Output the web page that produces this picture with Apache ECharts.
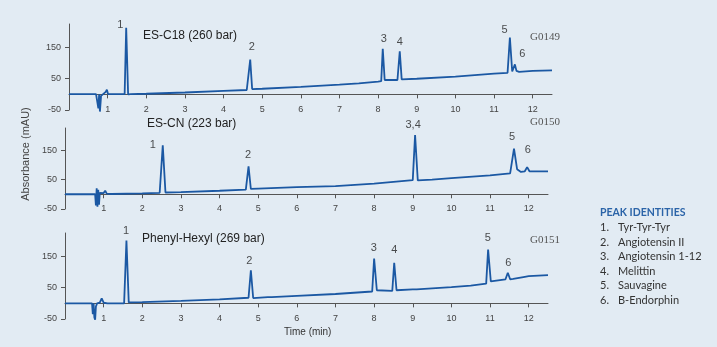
<!DOCTYPE html>
<html>
<head>
<meta charset="utf-8">
<script src="https://cdn.jsdelivr.net/npm/echarts@6/dist/echarts.min.js"></script>
<style>
html,body{margin:0;padding:0;background:#e2ebf3;}
#c{width:717px;height:347px;}
</style>
</head>
<body>
<div id="c"></div>
<script>
// ---- Data (time in min, absorbance in mAU) ----
const xTicks = [1,2,3,4,5,6,7,8,9,10,11,12];
const yTicks = [-50, 50, 150];

const panelTitles = ['ES-C18 (260 bar)', 'ES-CN (223 bar)', 'Phenyl-Hexyl (269 bar)'];
const panelCodes = ['G0149', 'G0150', 'G0151'];

// Panel 1: ES-C18
const time1 = [0,0.70,0.74,0.76,0.78,0.80,0.83,0.88,0.95,0.98,1.01,1.1,1.44,1.48,1.53,1.6,2,3,4,4.6,4.65,4.69,4.74,5,6,7,7.5,8.0,8.08,8.12,8.17,8.5,8.52,8.56,8.61,9,10,11,11.35,11.41,11.47,11.5,11.54,11.58,11.65,12,12.5];
const abs1  = [1,1,1,-45,0,-55,-5,1,8,15,1,1,1,213,0,1,2,6,11,14,15,111,17,18,24,31,35,41,42,146,46,46,47,138,48,50,57,66,69,182,73,77,96,75,72,75,77];

// Panel 2: ES-CN
const time2 = [0,0.78,0.80,0.82,0.84,0.86,0.88,0.90,0.94,1.0,1.04,1.08,1.2,2.0,2.45,2.53,2.6,3,4,4.68,4.75,4.81,5,6,7,8,9.0,9.06,9.13,9.5,10,11,11.52,11.62,11.7,11.8,11.9,11.96,12.02,12.5];
const abs2  = [0,0,-38,20,-42,15,-35,5,0,4,12,2,1,3,5,166,6,7,12,16,95,18,19,24,28,36,48,201,47,50,55,64,71,155,85,76,78,92,78,78];

// Panel 3: Phenyl-Hexyl
const time3 = [0,0.70,0.72,0.74,0.76,0.78,0.80,0.83,0.9,0.95,1.0,1.1,1.53,1.59,1.65,2,3,4,4.75,4.81,4.87,5.25,5.3,5.35,6,7,7.95,8.0,8.07,8.47,8.52,8.58,9.0,9.05,9.1,10,10.5,10.9,10.95,11.02,11.4,11.46,11.52,11.6,11.9,12.0,12.5];
const abs3  = [0,0,-35,0,-45,-52,-10,0,2,16,2,0,0,201,3,4,8,13,18,106,17,20,22,20,24,30,38,143,42,40,130,42,45,47,45,52,57,63,172,70,77,98,77,78,85,87,90];

// Peak labels (text, time, absorbance where the label sits)
const peakNames1 = ['1','2','3','4','5','6'];
const peakT1 = [1.33, 4.73, 8.15, 8.56, 11.27, 11.73];
const peakV1 = [222, 152, 176, 166, 205, 128];
const peakNames2 = ['1','2','3,4','5','6'];
const peakT2 = [2.27, 4.74, 9.01, 11.57, 11.98];
const peakV2 = [166, 132, 234, 196, 150];
const peakNames3 = ['1','2','3','4','5','6'];
const peakT3 = [1.58, 4.77, 7.99, 8.52, 10.94, 11.47];
const peakV3 = [233, 137, 178, 171, 210, 129];

const legendTitle = 'PEAK IDENTITIES';
const peakIdentities = ['Tyr-Tyr-Tyr','Angiotensin II','Angiotensin 1-12','Melittin','Sauvagine','B-Endorphin'];

// ---- Build chart ----
const zip = (a, b) => a.map((v, i) => [v, b[i]]);
const lineColor = '#1b58a3';
const axisColor = '#555';

const grids = [
  {left: 69, right: 165, top: 24, height: 86},
  {left: 65, right: 169, top: 128, height: 81},
  {left: 65, right: 169, top: 233, height: 86}
];

function xAx(i) {
  return {
    type: 'value', gridIndex: i, min: 0, max: 12.5,
    axisLine: {onZero: true, lineStyle: {color: axisColor, width: 1}},
    axisTick: {show: true, customValues: xTicks, length: 4, lineStyle: {color: axisColor}},
    axisLabel: {customValues: xTicks, fontSize: 9, color: '#444', margin: -5, fontFamily: 'Liberation Sans, Arial'},
    splitLine: {show: false}
  };
}
function yAx(i) {
  return {
    type: 'value', gridIndex: i, min: -50, max: 225,
    axisLine: {show: true, onZero: false, lineStyle: {color: axisColor, width: 1}},
    axisTick: {show: true, customValues: yTicks, length: 4, lineStyle: {color: axisColor}},
    axisLabel: {customValues: yTicks, fontSize: 9, color: '#444', margin: 8, fontFamily: 'Liberation Sans, Arial'},
    splitLine: {show: false}
  };
}
function lineS(i, t, v) {
  return {
    type: 'line', xAxisIndex: i, yAxisIndex: i, data: zip(t, v), clip: false,
    showSymbol: false, symbol: 'none', lineStyle: {color: lineColor, width: 1.8},
    silent: true
  };
}
function labelS(i, names, t, v) {
  return {
    type: 'scatter', xAxisIndex: i, yAxisIndex: i, symbolSize: 0, clip: false, silent: true,
    data: names.map((n, k) => ({name: n, value: [t[k], v[k]]})),
    label: {show: true, position: 'inside', formatter: '{b}', fontSize: 11, color: '#222', fontFamily: 'Liberation Sans, Arial'}
  };
}

const txt = (x, y, text, style) => ({type: 'text', left: x, top: y, silent: true,
  style: Object.assign({text: text, fill: '#222', font: '12px "Liberation Sans", Arial'}, style)});

const serif = {fill: '#555', font: '11px "Liberation Serif", "Times New Roman", serif'};
const legendFont = {fill: '#333', font: '11px Lato, "Open Sans", sans-serif'};

const graphic = [
  txt(143, 30, panelTitles[0]),
  txt(147, 118, panelTitles[1]),
  txt(142, 233, panelTitles[2]),
  txt(530, 32, panelCodes[0], serif),
  txt(530, 117, panelCodes[1], serif),
  txt(530, 235, panelCodes[2], serif),
  txt(284, 327, 'Time (min)', {fill: '#333', font: '10px "Liberation Sans", Arial'}),
  {type: 'text', x: 26, y: 154, rotation: Math.PI / 2, silent: true,
   style: {text: 'Absorbance (mAU)', fill: '#444', font: '11px "Liberation Sans", Arial', textAlign: 'center', textVerticalAlign: 'middle'}},
  txt(600, 207, legendTitle, {fill: '#2b64a8', font: 'bold 10.5px Lato, "Open Sans", sans-serif'})
];
peakIdentities.forEach((name, k) => {
  const y = 222 + k * 14.6;
  graphic.push(txt(600, y, (k + 1) + '.', legendFont));
  graphic.push(txt(618, y, name, legendFont));
});

const chart = echarts.init(document.getElementById('c'), null, {renderer: 'canvas'});
chart.setOption({
  backgroundColor: '#e2ebf3',
  animation: false,
  grid: grids,
  xAxis: [xAx(0), xAx(1), xAx(2)],
  yAxis: [yAx(0), yAx(1), yAx(2)],
  series: [
    lineS(0, time1, abs1), lineS(1, time2, abs2), lineS(2, time3, abs3),
    labelS(0, peakNames1, peakT1, peakV1), labelS(1, peakNames2, peakT2, peakV2), labelS(2, peakNames3, peakT3, peakV3)
  ],
  graphic: graphic
});
</script>
</body>
</html>
